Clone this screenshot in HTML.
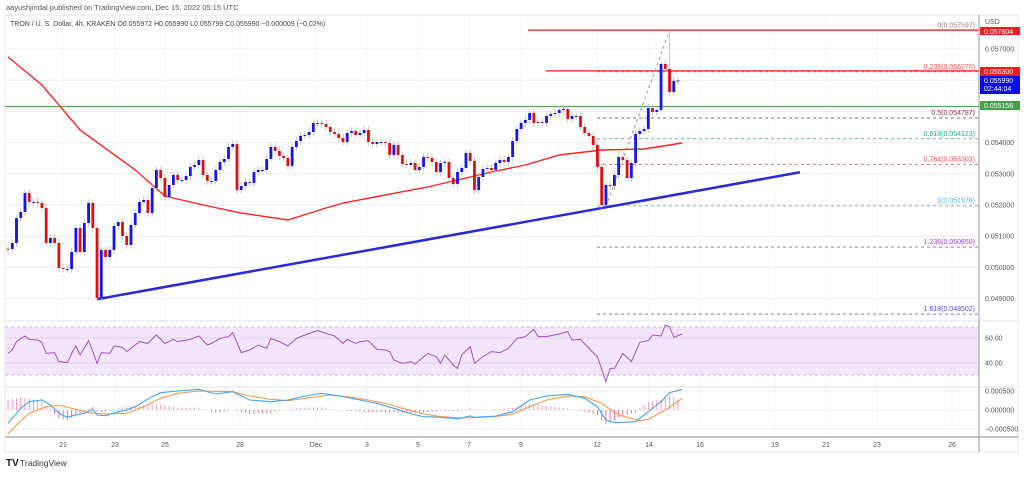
<!DOCTYPE html>
<html><head><meta charset="utf-8">
<style>
html,body{margin:0;padding:0;background:#fff;}
body{width:1024px;height:472px;overflow:hidden;font-family:"Liberation Sans",sans-serif;}
svg text{font-family:"Liberation Sans",sans-serif;}
</style></head>
<body>
<svg id="chart" width="1024" height="472" viewBox="0 0 1024 472" xmlns="http://www.w3.org/2000/svg">
<text x="6" y="10" font-size="7.5" fill="#555">aayushjindal published on TradingView.com, Dec 15, 2022 05:15 UTC</text>
<rect x="5" y="15" width="1013" height="437" fill="none" stroke="#e6e6e6"/>
<g id="grid"></g>
<rect x="5" y="327" width="974" height="48" fill="#f3e6fc"/>
<line x1="5" x2="979" y1="327" y2="327" stroke="#c9b4dc" stroke-dasharray="3,3"/>
<line x1="5" x2="979" y1="375" y2="375" stroke="#c9b4dc" stroke-dasharray="3,3"/>
<line x1="5" x2="979" y1="338" y2="338" stroke="#ddd0e8"/>
<line x1="5" x2="979" y1="363" y2="363" stroke="#ddd0e8"/>
<g id="marks"></g>
<line x1="5" x2="1018" y1="321" y2="321" stroke="#e0e0e0"/>
<line x1="5" x2="1018" y1="387" y2="387" stroke="#e0e0e0"/>
<line x1="5" x2="1018" y1="437" y2="437" stroke="#b0b0b0" stroke-width="1.5"/>
<line x1="979" x2="979" y1="15" y2="452" stroke="#999"/>
<text x="10" y="26" font-size="7" fill="#444">TRON / U. S. Dollar, 4h, KRAKEN  O0.055972  H0.055990  L0.055799  C0.055990  −0.000009 (−0.02%)</text>
<text x="985" y="24" font-size="7" fill="#555">USD</text>
<g id="axis"></g>
<g>
<text x="6" y="466" font-size="10" font-weight="bold" fill="#131722">TV</text>
<text x="20" y="466" font-size="8.5" fill="#333">TradingView</text>
</g>
</svg>
<script>
const closes=[0.050591,0.050783,0.051584,0.051776,0.052385,0.052097,0.052097,0.052065,0.051905,0.050783,0.050943,0.050783,0.049982,0.049950,0.049950,0.050495,0.051264,0.050495,0.051424,0.052065,0.051264,0.049020,0.050559,0.050334,0.050559,0.051328,0.051456,0.051007,0.050719,0.051360,0.051744,0.052097,0.052161,0.051744,0.052546,0.053122,0.052866,0.052257,0.052642,0.052962,0.052802,0.052802,0.052930,0.053219,0.053283,0.053443,0.052962,0.052770,0.052770,0.053122,0.053379,0.053475,0.053860,0.053956,0.052481,0.052610,0.052738,0.052706,0.053058,0.053122,0.053122,0.053475,0.053860,0.053732,0.053571,0.053507,0.053251,0.053860,0.054052,0.054212,0.054244,0.054341,0.054629,0.054629,0.054597,0.054501,0.054341,0.054276,0.054148,0.054020,0.054309,0.054373,0.054244,0.054309,0.054405,0.054020,0.053956,0.054020,0.054020,0.053988,0.053604,0.053924,0.053604,0.053315,0.053283,0.053347,0.053122,0.053219,0.053539,0.053507,0.053379,0.053058,0.053347,0.053379,0.052866,0.052674,0.053058,0.053187,0.053667,0.053411,0.052481,0.052898,0.053155,0.053187,0.053122,0.053347,0.053443,0.053379,0.053539,0.054052,0.054437,0.054629,0.054725,0.054949,0.054629,0.054661,0.054629,0.054853,0.054917,0.054949,0.055046,0.055078,0.054757,0.054853,0.054853,0.054501,0.054309,0.054212,0.053924,0.053219,0.052001,0.052642,0.052610,0.052962,0.053539,0.053443,0.052866,0.053347,0.054276,0.054373,0.054437,0.055110,0.054981,0.055046,0.056520,0.056360,0.055622,0.055975,0.055990];
const firstOpen=0.050600;
const extremeIdx=[21,141,156];
const extremeVal=[0.048950,0.051950,0.057597];
const maIdx=[0,8,17,30,37,46,55,66,75,79,99,114,122,130,140,150,159];
const maVal=[0.056744,0.055847,0.054405,0.053122,0.052289,0.052001,0.051744,0.051520,0.051905,0.052065,0.052578,0.053058,0.053283,0.053604,0.053764,0.053796,0.053988];
const rsiIdx=[0,1,2,4,5,7,8,9,11,12,14,15,16,17,19,20,21,22,24,25,27,28,30,31,33,35,37,39,40,43,45,47,48,50,52,53,55,57,59,61,62,64,66,68,69,71,73,75,77,79,80,82,83,85,87,89,90,91,93,95,96,99,101,102,103,105,106,107,109,110,112,114,116,118,120,122,124,125,127,130,132,133,135,137,139,141,142,143,145,147,149,151,152,154,155,156,157,159];
const rsiVal=[47.7,50.4,57.1,61.6,58.9,58.4,56.5,47.7,48.3,41.1,40.3,47.7,53.6,46.4,57.9,49.1,39.7,48.3,47.7,53.6,52.5,49.1,54.4,57.1,55.7,62.4,55.7,58.9,57.1,58.9,61.6,54.4,55.7,59.7,61.1,64.3,48.3,50.4,54.4,51.7,59.7,57.1,53.6,59.7,61.1,63.7,65.9,63.7,61.6,55.7,58.9,55.7,57.1,57.9,50.9,50.4,49.1,42.4,39.7,41.1,39.2,47.7,45.1,39.7,46.4,38.4,35.7,46.4,53.1,39.7,45.1,49.1,48.3,51.7,59.7,61.1,66.9,61.1,61.1,63.2,65.1,58.4,58.9,51.7,45.1,25.1,35.7,35.7,47.7,41.1,56.5,57.9,62.4,61.6,70.4,69.1,60.5,63.2];
const macdIdx=[0,1,3,5,8,10,12,14,16,18,20,21,23,26,28,30,32,34,36,40,45,49,53,57,62,66,70,74,79,83,87,91,96,98,102,106,109,110,115,119,123,127,132,136,139,141,143,148,151,154,156,159];
const macdVal=[-3.51,-2.19,0.44,2.19,2.63,1.32,-0.88,-1.93,-1.32,-0.88,0.18,-1.32,-1.49,-0.44,0,0.88,2.19,3.51,4.56,5.0,5.44,4.21,4.82,2.63,2.19,2.63,3.68,4.39,3.51,2.63,1.75,0.44,-1.32,-1.75,-1.93,-2.37,-1.58,-1.93,-1.58,-0.44,2.63,3.68,4.12,3.07,0.88,-2.63,-3.33,-3.07,-0.44,2.19,4.56,5.44];
const sigIdx=[0,2,5,9,12,15,19,23,28,32,36,40,45,49,53,57,62,66,70,74,76,81,85,89,93,98,102,106,110,115,119,123,127,132,136,140,144,149,151,155,159];
const sigVal=[-6.31,-3.95,-0.88,0.88,1.32,0.44,-0.70,-1.05,-0.88,0.88,3.07,4.39,5.0,4.91,4.82,3.68,2.81,2.46,3.07,3.68,3.95,3.33,2.63,1.75,0.44,-1.05,-1.75,-2.02,-2.02,-1.75,-1.05,0.88,2.63,3.68,3.51,1.75,-1.32,-2.81,-2.46,0,3.07];
const priceTicks=[0.057,0.054,0.053,0.052,0.051,0.050,0.049];
const dateLabels=["21","23","25","28","Dec","3","5","7","9","12","14","16","19","21","23","26"];
const dateX=[63,115,165,240,316,367,418,469,521,597,649,700,775,826,877,952];
const fibLevels=["0","0.236","0.5","0.618","0.764","1","1.236","1.618"];
const fibPrices=[0.057597,0.056270,0.054787,0.054123,0.053303,0.051976,0.050650,0.048502];
const fibColors=["#888","#f05050","#7a3b5a","#26a69a","#f05050","#4fb3e8","#a040d0","#5050e0"];

const NS="http://www.w3.org/2000/svg";
const n=closes.length, step=670/(n-1);
const X=i=>8+i*step;
const Y=p=>49+(0.057-p)*31200;
const RY=v=>338+(60-v)*1.25;
const MY=v=>410-v*1e-4*38000;
function mk(tag,attrs,parent){const e=document.createElementNS(NS,tag);for(const k in attrs)e.setAttribute(k,attrs[k]);parent.appendChild(e);return e;}
const grid=document.getElementById('grid'),marks=document.getElementById('marks'),axis=document.getElementById('axis');
// grid
[0.057,0.056,0.055,0.054,0.053,0.052,0.051,0.050,0.049].forEach(p=>{const l=mk('line',{x1:5,x2:979,y1:Y(p),y2:Y(p),stroke:'#ececec'},grid);});
[391,410,429].forEach(y=>{const l=mk('line',{x1:5,x2:979,y1:y,y2:y,stroke:'#ececec'},grid);});
dateX.forEach(x=>{const l=mk('line',{x1:x,x2:x,y1:15,y2:437,stroke:'#f0f0f0','stroke-dasharray':'2,2'},grid);});
// horizontal levels
function hl(x1,p,color,w,name){const l=mk('line',{x1:x1,x2:979,y1:Y(p),y2:Y(p),stroke:color,'stroke-width':w},marks);}
// fib
fibPrices.forEach((p,k)=>{const l=mk('line',{x1:597,x2:979,y1:Y(p),y2:Y(p),stroke:fibColors[k],'stroke-dasharray':'3,3','stroke-opacity':0.8},marks);
const t=mk('text',{x:975,y:Y(p)-3,'font-size':7,fill:fibColors[k],'text-anchor':'end'},marks);t.textContent=fibLevels[k]+"("+p.toFixed(6)+")";});
const fd=mk('line',{x1:X(141),y1:Y(0.05195),x2:X(156),y2:Y(0.057597),stroke:'#999','stroke-dasharray':'3,3'},marks);
hl(528,0.057604,'#f23b3b',1.5,'resistance-line-top');
hl(546,0.0563,'#f23b3b',1.5,'resistance-line');
hl(5,0.055156,'#4caf50',1.2,'support-line-green');
// MA
let d=maIdx.map((i,k)=>(k?'L':'M')+X(i).toFixed(1)+','+Y(maVal[k]).toFixed(1)).join('');
const ma=mk('path',{d:d,fill:'none',stroke:'#f22',"stroke-width":1.4},marks);
// trendline
const tl=mk('line',{x1:97,y1:Y(0.04898),x2:800,y2:Y(0.05305),stroke:'#2a2ad6','stroke-width':2.5},marks);
// candles
for(let i=0;i<n;i++){const o=i?closes[i-1]:firstOpen,c=closes[i];let h=Math.max(o,c)+0.00012,l=Math.min(o,c)-0.00012;
const e=extremeIdx.indexOf(i);if(e>=0){if(extremeVal[e]>c)h=extremeVal[e];else l=extremeVal[e];}
const x=X(i);const w=mk('line',{x1:x,x2:x,y1:Y(h),y2:Y(l),stroke:'#bbb','stroke-width':0.8},marks);
const yt=Y(Math.max(o,c)),yb=Y(Math.min(o,c));const r=mk('rect',{x:x-1.4,y:yt,width:2.8,height:Math.max(1,yb-yt),fill:c>=o?'#1515f0':'#e01010'},marks);}
// RSI
d=rsiIdx.map((i,k)=>(k?'L':'M')+X(i).toFixed(1)+','+RY(rsiVal[k]).toFixed(1)).join('');
const rs=mk('path',{d:d,fill:'none',stroke:'#a050c8','stroke-width':1},marks);
// MACD histogram
function interp(ix,vs,i){for(let k=0;k<ix.length-1;k++){if(i>=ix[k]&&i<=ix[k+1]){const t=(i-ix[k])/(ix[k+1]-ix[k]||1);return vs[k]+t*(vs[k+1]-vs[k]);}}return vs[vs.length-1];}
for(let i=0;i<n;i++){const h=interp(macdIdx,macdVal,i)-interp(sigIdx,sigVal,i);const b=mk('line',{x1:X(i),x2:X(i),y1:MY(0),y2:MY(h),stroke:h>=0?'#f48fb1':'#f06292','stroke-width':0.9},marks);}
d=sigIdx.map((i,k)=>(k?'L':'M')+X(i).toFixed(1)+','+MY(sigVal[k]).toFixed(1)).join('');
const sg=mk('path',{d:d,fill:'none',stroke:'#ff9850','stroke-width':1.1},marks);
d=macdIdx.map((i,k)=>(k?'L':'M')+X(i).toFixed(1)+','+MY(macdVal[k]).toFixed(1)).join('');
const mc=mk('path',{d:d,fill:'none',stroke:'#42a5f5','stroke-width':1.1},marks);
// axis labels
priceTicks.forEach(p=>{const t=mk('text',{x:985,y:Y(p)+2.5,'font-size':7,fill:'#555'},axis);t.textContent=p.toFixed(6);});
[[60,"60.00"],[40,"40.00"]].forEach(a=>{const t=mk('text',{x:985,y:RY(a[0])+2.5,'font-size':7,fill:'#555'},axis);t.textContent=a[1];});
[[5,"0.000500"],[0,"0.000000"],[-5,"−0.000500"]].forEach(a=>{const t=mk('text',{x:985,y:MY(a[0])+2.5,'font-size':7,fill:'#555'},axis);t.textContent=a[1];});
dateLabels.forEach((s,k)=>{const t=mk('text',{x:dateX[k],y:447,'font-size':7,fill:'#555','text-anchor':'middle'},axis);t.textContent=s;});
function tag(y,h,bg,lines,name){const g=mk('g',{},axis);mk('rect',{x:980,y:y,width:40,height:h,fill:bg},g);lines.forEach((s,k)=>{const t=mk('text',{x:984,y:y+7+k*8,'font-size':7,fill:'#fff'},g);t.textContent=s;});}
tag(27,8,'#f21c1c',["0.057604"],'price-tag-high');
tag(67,9,'#f21c1c',["0.056300"],'price-tag-resistance');
tag(76,18,'#0a0af0',["0.055990","02:44:04"],'price-tag-current');
tag(101,9,'#43a047',["0.055156"],'price-tag-support');
</script>
</body></html>
